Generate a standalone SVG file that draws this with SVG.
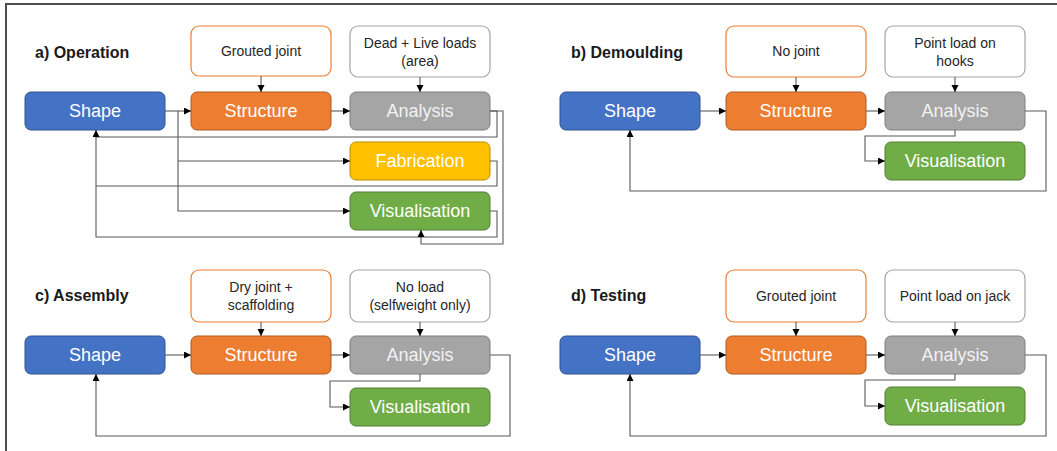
<svg xmlns="http://www.w3.org/2000/svg" width="1057" height="451" viewBox="0 0 1057 451">
<style>
.bg{fill:#ffffff}
.frame{stroke:#4d4d4d;stroke-width:2;fill:none}
.title{font-family:"Liberation Sans",Arial,sans-serif;font-weight:bold;font-size:16px;fill:#1a1a1a}
.ptxt{font-family:"Liberation Sans",Arial,sans-serif;font-size:14px;fill:#262626;text-anchor:middle}
.ntxt{font-family:"Liberation Sans",Arial,sans-serif;font-size:18px;fill:#ffffff;text-anchor:middle}
.joint{fill:#ffffff;stroke:#ED7D31;stroke-width:1.2}
.load{fill:#ffffff;stroke:#A5A5A5;stroke-width:1.2}
.shape{fill:#4472C4;stroke:#2F528F;stroke-width:1}
.struct{fill:#ED7D31;stroke:#AE5A21;stroke-width:1}
.anal{fill:#A5A5A5;stroke:#7F7F7F;stroke-width:1}
.fab{fill:#FFC000;stroke:#BC8C00;stroke-width:1}
.vis{fill:#70AD47;stroke:#507E32;stroke-width:1}
.con{fill:none;stroke:#595959;stroke-width:1.1}
.arr{marker-end:url(#ah)}
</style>
<defs>
<marker id="ah" markerUnits="userSpaceOnUse" markerWidth="8" markerHeight="8" refX="7" refY="3.5" orient="auto">
<path d="M0,0 L7,3.5 L0,7 z" fill="#000000"/>
</marker>
</defs>
<rect class="bg" x="0" y="0" width="1057" height="451"/>
<path class="frame" d="M6,451 V4 H1057"/>

<!-- Panel a -->
<g id="panel-a">
<text class="title" x="35" y="58">a) Operation</text>
<g id="a-joint"><rect class="joint" x="191" y="26" width="140" height="50" rx="8"/><text class="ptxt" x="261" y="56">Grouted joint</text></g>
<g id="a-load"><rect class="load" x="350" y="26" width="140" height="51" rx="8"/><text class="ptxt" x="420" y="48">Dead + Live loads</text><text class="ptxt" x="420" y="66">(area)</text></g>
<g id="a-shape"><rect class="shape" x="25" y="92" width="140" height="38" rx="6"/><text class="ntxt" x="95" y="117">Shape</text></g>
<g id="a-structure"><rect class="struct" x="191" y="92" width="140" height="38" rx="6"/><text class="ntxt" x="261" y="117">Structure</text></g>
<g id="a-analysis"><rect class="anal" x="350" y="92" width="140" height="38" rx="6"/><text class="ntxt" x="420" y="117" style="fill:#f2f2f2">Analysis</text></g>
<g id="a-fabrication"><rect class="fab" x="350" y="142" width="140" height="38" rx="6"/><text class="ntxt" x="420" y="167">Fabrication</text></g>
<g id="a-visualisation"><rect class="vis" x="350" y="192" width="140" height="38" rx="6"/><text class="ntxt" x="420" y="217">Visualisation</text></g>
</g>

<!-- Panel b -->
<g id="panel-b">
<text class="title" x="571" y="58">b) Demoulding</text>
<g id="b-joint"><rect class="joint" x="726" y="26" width="140" height="51" rx="8"/><text class="ptxt" x="796" y="56">No joint</text></g>
<g id="b-load"><rect class="load" x="885" y="26" width="140" height="51" rx="8"/><text class="ptxt" x="955" y="48">Point load on</text><text class="ptxt" x="955" y="66">hooks</text></g>
<g id="b-shape"><rect class="shape" x="560" y="92" width="140" height="38" rx="6"/><text class="ntxt" x="630" y="117">Shape</text></g>
<g id="b-structure"><rect class="struct" x="726" y="92" width="140" height="38" rx="6"/><text class="ntxt" x="796" y="117">Structure</text></g>
<g id="b-analysis"><rect class="anal" x="885" y="92" width="140" height="38" rx="6"/><text class="ntxt" x="955" y="117" style="fill:#f2f2f2">Analysis</text></g>
<g id="b-visualisation"><rect class="vis" x="885" y="142" width="140" height="38" rx="6"/><text class="ntxt" x="955" y="167">Visualisation</text></g>
</g>

<!-- Panel c -->
<g id="panel-c">
<text class="title" x="35" y="301">c) Assembly</text>
<g id="c-joint"><rect class="joint" x="191" y="270" width="140" height="52" rx="8"/><text class="ptxt" x="261" y="292">Dry joint +</text><text class="ptxt" x="261" y="310">scaffolding</text></g>
<g id="c-load"><rect class="load" x="350" y="270" width="140" height="52" rx="8"/><text class="ptxt" x="420" y="292">No load</text><text class="ptxt" x="420" y="310">(selfweight only)</text></g>
<g id="c-shape"><rect class="shape" x="25" y="336" width="140" height="38" rx="6"/><text class="ntxt" x="95" y="361">Shape</text></g>
<g id="c-structure"><rect class="struct" x="191" y="336" width="140" height="38" rx="6"/><text class="ntxt" x="261" y="361">Structure</text></g>
<g id="c-analysis"><rect class="anal" x="350" y="336" width="140" height="38" rx="6"/><text class="ntxt" x="420" y="361" style="fill:#f2f2f2">Analysis</text></g>
<g id="c-visualisation"><rect class="vis" x="350" y="388" width="140" height="38" rx="6"/><text class="ntxt" x="420" y="413">Visualisation</text></g>
</g>

<!-- Panel d -->
<g id="panel-d">
<text class="title" x="571" y="301">d) Testing</text>
<g id="d-joint"><rect class="joint" x="726" y="270" width="140" height="52" rx="8"/><text class="ptxt" x="796" y="301">Grouted joint</text></g>
<g id="d-load"><rect class="load" x="885" y="270" width="140" height="52" rx="8"/><text class="ptxt" x="955" y="301">Point load on jack</text></g>
<g id="d-shape"><rect class="shape" x="560" y="336" width="140" height="38" rx="6"/><text class="ntxt" x="630" y="361">Shape</text></g>
<g id="d-structure"><rect class="struct" x="726" y="336" width="140" height="38" rx="6"/><text class="ntxt" x="796" y="361">Structure</text></g>
<g id="d-analysis"><rect class="anal" x="885" y="336" width="140" height="38" rx="6"/><text class="ntxt" x="955" y="361" style="fill:#f2f2f2">Analysis</text></g>
<g id="d-visualisation"><rect class="vis" x="885" y="387" width="140" height="38" rx="6"/><text class="ntxt" x="955" y="412">Visualisation</text></g>
</g>

<g id="connectors">
<!-- a -->
<path class="con arr" d="M165,111 H191"/>
<path class="con arr" d="M178,111 V211 H350"/>
<path class="con arr" d="M178,161 H350"/>
<path class="con arr" d="M331,111 H350"/>
<path class="con arr" d="M261,76 V92"/>
<path class="con arr" d="M420,77 V92"/>
<path class="con" d="M490,111 H497 V137 H96"/>
<path class="con" d="M490,161 H497 V186 H96"/>
<path class="con arr" d="M490,211 H497 V237 H96 V130"/>
<path class="con arr" d="M490,111 H503 V244 H421 V230"/>
<!-- b -->
<path class="con arr" d="M700,111 H726"/>
<path class="con arr" d="M866,111 H885"/>
<path class="con arr" d="M796,77 V92"/>
<path class="con arr" d="M955,77 V92"/>
<path class="con arr" d="M955,130 V136 H865 V161 H885"/>
<path class="con arr" d="M1025,111 H1046 V191 H630 V130"/>
<!-- c -->
<path class="con arr" d="M165,355 H191"/>
<path class="con arr" d="M331,355 H350"/>
<path class="con arr" d="M261,322 V336"/>
<path class="con arr" d="M420,322 V336"/>
<path class="con arr" d="M420,374 V381 H330 V407 H350"/>
<path class="con arr" d="M490,355 H510 V436 H96 V374"/>
<!-- d -->
<path class="con arr" d="M700,355 H726"/>
<path class="con arr" d="M866,355 H885"/>
<path class="con arr" d="M796,322 V336"/>
<path class="con arr" d="M955,322 V336"/>
<path class="con arr" d="M955,374 V380 H865 V406 H885"/>
<path class="con arr" d="M1025,355 H1046 V436 H630 V374"/>
</g>
</svg>
